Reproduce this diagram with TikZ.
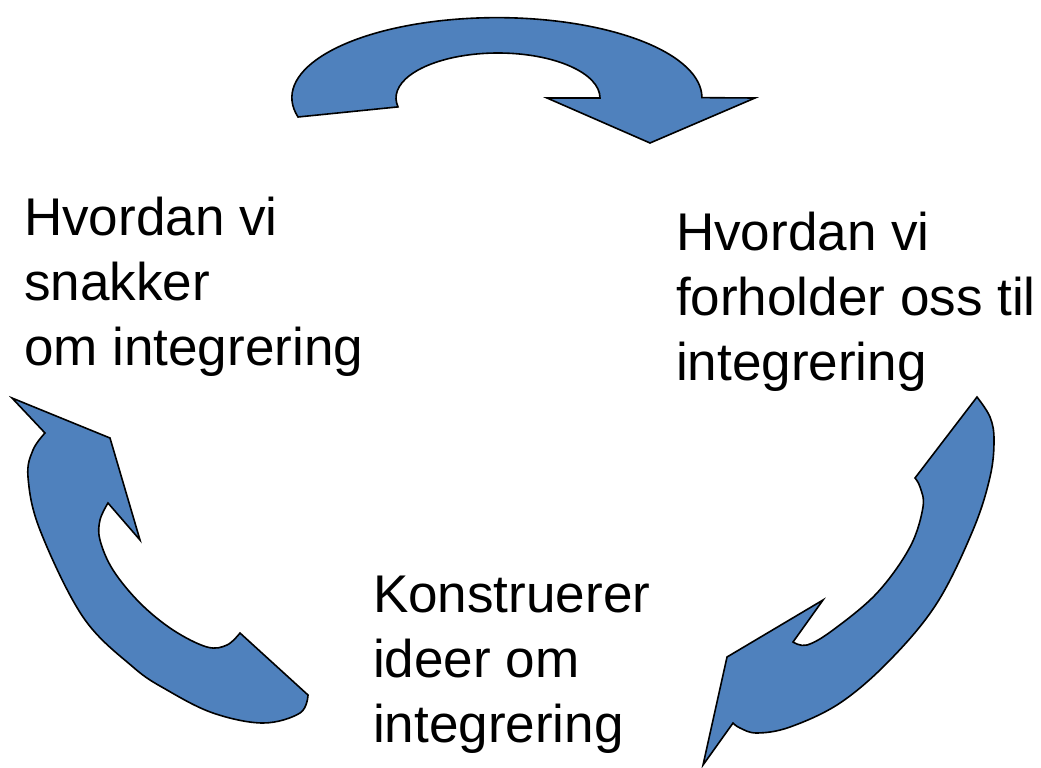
\documentclass[tikz,border=0pt]{standalone}
\usepackage{fontspec}
\setmainfont{Liberation Sans}
\begin{document}
\begin{tikzpicture}[x=0.75pt,y=0.75pt,yscale=-1,
  arr/.style={draw=black,fill=arrowblue,line width=1.2pt,line join=miter},
  lbl/.style={inner sep=0pt,outer sep=0pt,align=left,anchor=base west,
    font=\fontsize{39.8pt}{48.75pt}\selectfont}]
\definecolor{arrowblue}{HTML}{4F81BD}
\useasboundingbox (0,0) rectangle (1041,767);
% top arrow
\draw[arr] (298,117) arc[start angle=166,end angle=360,x radius=205,y radius=80]
  -- (755,98) -- (650,143) -- (547,98) -- (600,98)
  arc[start angle=0,end angle=-191.4,x radius=102,y radius=45] -- cycle;
% left arrow
\draw[arr] (12,398) -- (110,438) -- (140,540) -- (108,503)
  -- plot[smooth,tension=0.6] coordinates {(108,503) (100,520) (100,540) (113,570) (140,603) (173,630) (207,647) (227,645) (240,633)}
  -- (308,695)
  -- plot[smooth,tension=0.6] coordinates {(308,695) (300,713) (263,723) (213,713) (167,690) (133,667) (83,617) (40,530) (28,477) (33,450) (45,433)}
  -- cycle;
% right arrow
\draw[arr] (977,397)
  -- plot[smooth,tension=0.6] coordinates {(977,397) (990,417) (994,440) (990,477) (973,530) (937,603) (890,660) (840,703) (790,727) (757,733) (740,728) (733,723)}
  -- (703,765) -- (727,657) -- (823,600) -- (793,642)
  -- plot[smooth,tension=0.6] coordinates {(793,642) (807,645) (833,630) (877,593) (910,547) (923,507) (920,487) (915,478)}
  -- cycle;
% labels (anchored at the baseline of the last line)
\node[lbl] (talk) at (24,365) {Hvordan vi\\snakker\\om integrering};
\node[lbl] (relate) at (676,380) {Hvordan vi\\forholder oss til\\integrering};
\node[lbl] (construct) at (373,742) {Konstruerer\\ideer om\\integrering};
\end{tikzpicture}
\end{document}
